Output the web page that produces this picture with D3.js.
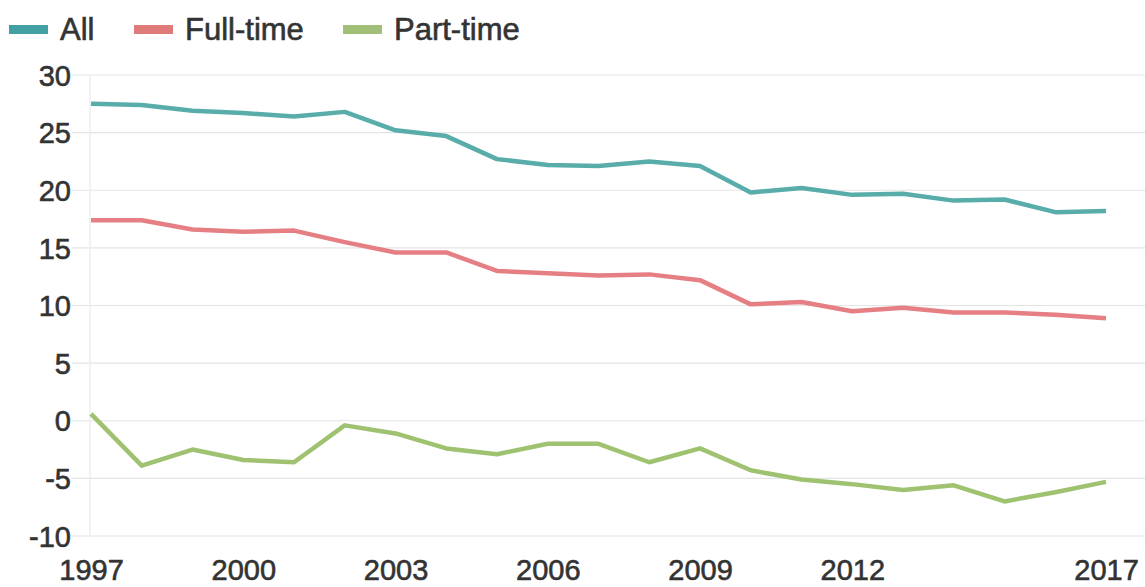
<!DOCTYPE html>
<html>
<head>
<meta charset="utf-8">
<script src="https://cdn.jsdelivr.net/npm/d3@7"></script>
<style>
  html, body { margin: 0; padding: 0; background: #ffffff; }
  svg { display: block; }
  text { font-family: "Liberation Sans", Arial, sans-serif; fill: #333333; stroke: #333333; stroke-width: 0.6px; }
</style>
</head>
<body>
<svg id="chart" width="1145" height="587"></svg>
<script>
// Years on the x axis
const years = [1997, 1998, 1999, 2000, 2001, 2002, 2003, 2004, 2005, 2006, 2007,
               2008, 2009, 2010, 2011, 2012, 2013, 2014, 2015, 2016, 2017];

// Series values per year
const allValues = [27.5, 27.4, 26.9, 26.7, 26.4, 26.8, 25.2, 24.7, 22.7, 22.2, 22.1,
                   22.5, 22.1, 19.8, 20.2, 19.6, 19.7, 19.1, 19.2, 18.1, 18.2];
const fullTimeValues = [17.4, 17.4, 16.6, 16.4, 16.5, 15.5, 14.6, 14.6, 13.0, 12.8, 12.6,
                        12.7, 12.2, 10.1, 10.3, 9.5, 9.8, 9.4, 9.4, 9.2, 8.9];
const partTimeValues = [0.6, -3.9, -2.5, -3.4, -3.6, -0.4, -1.1, -2.4, -2.9, -2.0, -2.0,
                        -3.6, -2.4, -4.3, -5.1, -5.5, -6.0, -5.6, -7.0, -6.2, -5.3];

// Axis ticks
const xTicks = [1997, 2000, 2003, 2006, 2009, 2012, 2017];
const yTicks = [-10, -5, 0, 5, 10, 15, 20, 25, 30];

// Series names and colours
const seriesNames = ["All", "Full-time", "Part-time"];
const seriesColors = ["#58adab", "#e67f83", "#9fc271"];
const legendColors = ["#42a0a4", "#de7b78", "#a2bf78"];

const series = [allValues, fullTimeValues, partTimeValues];

const svg = d3.select("#chart");

const x = d3.scaleLinear().domain([1997, 2017]).range([91, 1106]);
const y = d3.scaleLinear().domain([-10, 30]).range([536, 75]);

// Plain hyphen for negatives
const fmt = d => String(d);

// Horizontal gridlines
svg.append("g")
  .selectAll("line")
  .data(yTicks)
  .join("line")
  .attr("x1", 72)
  .attr("x2", 1145)
  .attr("y1", d => y(d))
  .attr("y2", d => y(d))
  .attr("stroke", "#e4e4e4")
  .attr("stroke-width", 1.2);

// Faint vertical axis line
svg.append("line")
  .attr("x1", 90).attr("x2", 90)
  .attr("y1", y(30)).attr("y2", y(-10))
  .attr("stroke", "#eeeeee")
  .attr("stroke-width", 1.5);

// Y axis labels
const yAxis = svg.append("g")
  .attr("transform", "translate(71,0)")
  .call(d3.axisLeft(y).tickValues(yTicks).tickSize(0).tickPadding(0).tickFormat(fmt));
yAxis.select(".domain").remove();
yAxis.selectAll("text")
  .style("font-size", "29px")
  .style("font-family", "'Liberation Sans', Arial, sans-serif")
  .attr("fill", "#333333")
  .attr("dy", "0.35em");

// X axis labels
const xAxis = svg.append("g")
  .attr("transform", "translate(0,558)")
  .call(d3.axisBottom(x).tickValues(xTicks).tickSize(0).tickPadding(0).tickFormat(fmt));
xAxis.select(".domain").remove();
xAxis.selectAll("text")
  .style("font-size", "29px")
  .style("font-family", "'Liberation Sans', Arial, sans-serif")
  .attr("fill", "#333333")
  .attr("dy", "0.75em");

// Lines
const line = d3.line()
  .x((d, i) => x(years[i]))
  .y(d => y(d));

svg.append("g")
  .selectAll("path")
  .data(series)
  .join("path")
  .attr("d", d => line(d))
  .attr("fill", "none")
  .attr("stroke", (d, i) => seriesColors[i])
  .attr("stroke-width", 4.5)
  .attr("stroke-linejoin", "round")
  .attr("stroke-linecap", "butt");

// Legend
const legendX = [9, 134, 343];
const legend = svg.append("g");
const items = legend.selectAll("g")
  .data(seriesNames)
  .join("g")
  .attr("transform", (d, i) => `translate(${legendX[i]},0)`);
items.append("rect")
  .attr("x", 0)
  .attr("y", 25)
  .attr("width", 39)
  .attr("height", 9)
  .attr("fill", (d, i) => legendColors[i]);
items.append("text")
  .attr("x", 51)
  .attr("y", 40)
  .style("font-size", "31px")
  .text(d => d);
</script>
</body>
</html>
